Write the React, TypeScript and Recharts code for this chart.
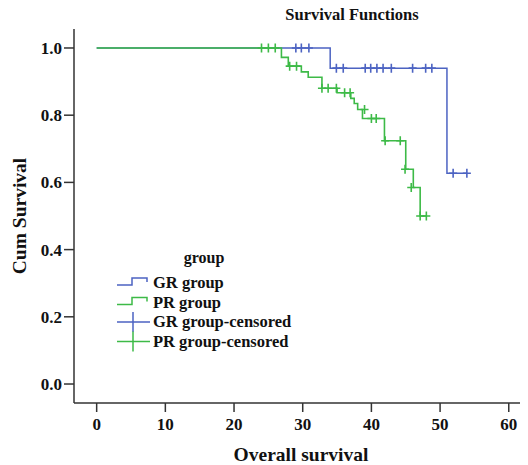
import React from "react";
import { ComposedChart, Line, Scatter, XAxis, YAxis, Customized } from "recharts";

// GR group: event times and survival after each step
const grEventTime = [0, 34.0, 51.0];
const grEventSurv = [1.0, 0.94, 0.627];
const grCensorTime = [29.0, 29.8, 30.9, 34.9, 35.9, 39.1, 39.9, 40.8, 41.7, 42.9, 46.0, 47.9, 48.8, 51.9, 53.9];
const grCensorSurv = [1.0, 1.0, 1.0, 0.94, 0.94, 0.94, 0.94, 0.94, 0.94, 0.94, 0.94, 0.94, 0.94, 0.627, 0.627];

// PR group
const prEventTime = [0, 26.9, 27.9, 29.8, 30.8, 32.8, 35.0, 37.0, 37.5, 38.0, 38.7, 41.9, 45.0, 46.1, 47.1];
const prEventSurv = [1.0, 0.972, 0.946, 0.929, 0.913, 0.88, 0.867, 0.85, 0.835, 0.817, 0.79, 0.724, 0.639, 0.585, 0.5];
const prCensorTime = [24.0, 25.0, 26.0, 28.1, 29.1, 32.8, 33.7, 34.9, 36.1, 36.9, 39.0, 40.0, 40.7, 42.0, 44.2, 44.9, 45.8, 47.1, 48.0];
const prCensorSurv = [1.0, 1.0, 1.0, 0.946, 0.946, 0.88, 0.88, 0.88, 0.867, 0.867, 0.817, 0.79, 0.79, 0.724, 0.724, 0.639, 0.585, 0.5, 0.5];

const xTicks = [0, 10, 20, 30, 40, 50, 60];
const yTicks = [0, 0.2, 0.4, 0.6, 0.8, 1.0];

const legendLabels = ["GR group", "PR group", "GR group-censored", "PR group-censored"];

const BLUE = "#4c63c2";
const GREEN = "#3dba47";
const AXIS = "#333333";
const FONT = "'Liberation Serif', 'Times New Roman', serif";

const toPoints = (ts: number[], ss: number[]) => ts.map((t, i) => ({ t, s: ss[i] }));

const grLine = toPoints(grEventTime, grEventSurv).concat([
  { t: grCensorTime[grCensorTime.length - 1], s: grCensorSurv[grCensorSurv.length - 1] },
]);
const prLine = toPoints(prEventTime, prEventSurv).concat([
  { t: prCensorTime[prCensorTime.length - 1], s: prCensorSurv[prCensorSurv.length - 1] },
]);
const grCensor = toPoints(grCensorTime, grCensorSurv);
const prCensor = toPoints(prCensorTime, prCensorSurv);

const plus = (color: string) => (props: any) => {
  const { cx, cy } = props;
  return (
    <path
      d={`M${cx - 4},${cy}H${cx + 4}M${cx},${cy - 4.5}V${cy + 4.5}`}
      stroke={color}
      strokeWidth={1.6}
      fill="none"
    />
  );
};

function Extras() {
  const colors = [BLUE, GREEN, BLUE, GREEN];
  return (
    <g fontFamily={FONT} fontWeight="bold">
      <text x={352} y={20} textAnchor="middle" fontSize={16.5} fill="#111">
        Survival Functions
      </text>
      <text x={204} y={263} textAnchor="middle" fontSize={16} fill="#111">
        group
      </text>
      {legendLabels.map((label, i) => {
        const y = 283 + i * 19.5;
        const c = colors[i];
        return (
          <g key={label}>
            {i < 2 ? (
              <path
                d={`M117,${y + 2}H132V${y - 5}H147V${y - 1}`}
                stroke={c}
                strokeWidth={1.5}
                fill="none"
              />
            ) : (
              <path d={`M117,${y}H150M133,${y - 10}V${y + 10}`} stroke={c} strokeWidth={1.5} fill="none" />
            )}
            <text x={153} y={y + 5} fontSize={16.5} fill="#111">
              {label}
            </text>
          </g>
        );
      })}
    </g>
  );
}

export default function App() {
  return (
    <div style={{ margin: "-8px 0 0 -8px", width: 528, height: 465, background: "#fff" }}>
      <ComposedChart width={528} height={465} margin={{ top: 29, right: 0, left: 0, bottom: 0 }}>
        <XAxis
          xAxisId="top"
          orientation="top"
          type="number"
          dataKey="t"
          domain={[-3.3, 62.8]}
          allowDataOverflow
          height={0}
          tick={false}
          tickLine={false}
          axisLine={{ stroke: AXIS, strokeWidth: 1.5 }}
        />
        <XAxis
          type="number"
          dataKey="t"
          domain={[-3.3, 62.8]}
          allowDataOverflow
          ticks={xTicks}
          height={62}
          tickSize={9}
          tickMargin={6}
          axisLine={{ stroke: AXIS, strokeWidth: 1.5 }}
          tickLine={{ stroke: AXIS, strokeWidth: 1.5 }}
          tick={{ fill: "#111", fontSize: 17, fontWeight: "bold", fontFamily: FONT }}
          label={{
            value: "Overall survival",
            position: "insideBottom",
            offset: 4,
            fill: "#111",
            fontSize: 19.5,
            fontWeight: "bold",
            fontFamily: FONT,
          }}
        />
        <YAxis
          type="number"
          domain={[-0.0565, 1.0565]}
          allowDataOverflow
          ticks={yTicks}
          width={74}
          tickSize={10}
          tickMargin={2}
          tickFormatter={(v: number) => v.toFixed(1)}
          axisLine={{ stroke: AXIS, strokeWidth: 1.5 }}
          tickLine={{ stroke: AXIS, strokeWidth: 1.5 }}
          tick={{ fill: "#111", fontSize: 17, fontWeight: "bold", fontFamily: FONT }}
          label={{
            value: "Cum Survival",
            angle: -90,
            position: "insideLeft",
            offset: 19,
            style: { textAnchor: "middle" },
            fill: "#111",
            fontSize: 19.5,
            fontWeight: "bold",
            fontFamily: FONT,
          }}
        />
        <Line data={grLine} dataKey="s" type="stepAfter" stroke={BLUE} strokeWidth={1.5} dot={false} isAnimationActive={false} />
        <Line data={prLine} dataKey="s" type="stepAfter" stroke={GREEN} strokeWidth={1.6} dot={false} isAnimationActive={false} />
        <Scatter data={grCensor} dataKey="s" shape={plus(BLUE)} isAnimationActive={false} />
        <Scatter data={prCensor} dataKey="s" shape={plus(GREEN)} isAnimationActive={false} />
        <Customized component={<Extras />} />
      </ComposedChart>
    </div>
  );
}
